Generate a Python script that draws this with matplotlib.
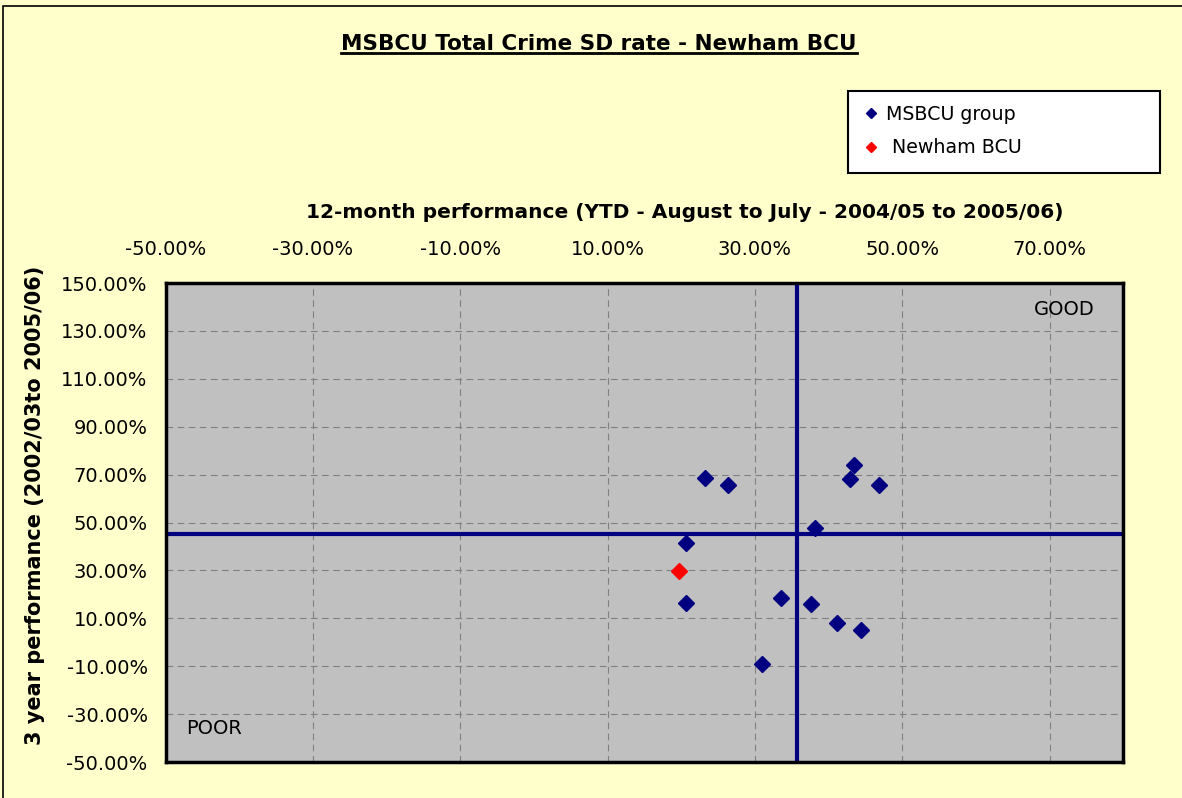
import matplotlib.pyplot as plt
from matplotlib.patches import Rectangle
from matplotlib.lines import Line2D
from matplotlib.ticker import MultipleLocator, FuncFormatter

# values (percent)
group_x = [23.2, 26.3, 20.7, 20.6, 31.0, 33.5, 37.6, 38.1, 41.1, 44.4, 42.9, 43.5, 46.9]
group_y = [68.5, 65.7, 41.6, 16.5, -9.0, 18.3, 16.1, 47.8, 8.1, 5.2, 68.3, 74.0, 65.7]
newham_x = [19.7]
newham_y = [29.7]
avg_x = 35.7
avg_y = 45.1

title = "MSBCU Total Crime SD rate - Newham BCU"
xlab = "12-month performance (YTD - August to July - 2004/05 to 2005/06)"
ylab = "3 year performance (2002/03to 2005/06)"

plt.rcParams['font.family'] = ['DejaVu Sans']

fig = plt.figure(figsize=(11.82, 7.98), dpi=100)
fig.patch.set_facecolor('#FFFFCC')

# outer chart border (cut off on right/bottom like the screenshot)
fig.add_artist(Rectangle((3 / 1182, -0.05), 1.2, 1 - 6 / 798 + 0.05,
                         transform=fig.transFigure, fill=False,
                         edgecolor='black', linewidth=1.2))

ax = fig.add_axes([165.7 / 1182, 1 - 762 / 798, (1123.3 - 165.7) / 1182, (762 - 283.1) / 798])
ax.set_facecolor('#C0C0C0')
ax.set_xlim(-50, 80)
ax.set_ylim(-50, 150)
ax.xaxis.set_major_locator(MultipleLocator(20, offset=10))
ax.yaxis.set_major_locator(MultipleLocator(20, offset=10))
pct = FuncFormatter(lambda v, p: f"{v:.2f}%")
ax.xaxis.set_major_formatter(pct)
ax.yaxis.set_major_formatter(pct)
ax.xaxis.tick_top()
ax.xaxis.set_label_position('top')
ax.tick_params(axis='x', length=0, labelsize=14, pad=17)
ax.tick_params(axis='y', length=0, labelsize=14, pad=13)
ax.grid(True, color='#808080', linestyle=(0, (6, 4)), linewidth=0.8)
ax.set_axisbelow(True)
for s in ax.spines.values():
    s.set_linewidth(2.5)
    s.set_color('black')

ax.axvline(avg_x, color='#000080', linewidth=3, zorder=2)
ax.axhline(avg_y, color='#000080', linewidth=3, zorder=2)

ax.plot(group_x, group_y, 'D', color='#000080', ms=8.5, linestyle='none', zorder=3)
ax.plot(newham_x, newham_y, 'D', color='#FF0000', ms=8.5, linestyle='none', zorder=3)

ax.set_xlabel(xlab, fontsize=14.5, fontweight='bold')
ax.xaxis.set_label_coords(0.542, 1.135)
ax.set_ylabel(ylab, fontsize=15, fontweight='bold')
ax.yaxis.set_label_coords(-0.126, 0.535)

ax.text(0.970, 0.965, "GOOD", transform=ax.transAxes, ha='right', va='top', fontsize=14)
ax.text(0.021, 0.05, "POOR", transform=ax.transAxes, ha='left', va='bottom', fontsize=14)

# title with underline
t = fig.text(599 / 1182, 1 - 44 / 798, title, ha='center', va='center', fontsize=15.5, fontweight='bold')
fig.canvas.draw()
bb = t.get_window_extent().transformed(fig.transFigure.inverted())
fig.add_artist(Line2D([bb.x0, bb.x1], [bb.y0 + 0.001, bb.y0 + 0.001],
                      transform=fig.transFigure, color='black', linewidth=2))

# legend box
fig.add_artist(Rectangle((848 / 1182, 1 - 173 / 798), 312 / 1182, 82 / 798,
                         transform=fig.transFigure, facecolor='white',
                         edgecolor='black', linewidth=1.5))
handles = [Line2D([], [], marker='D', color='#000080', ms=5.5, linestyle='none'),
           Line2D([], [], marker='D', color='#FF0000', ms=5.5, linestyle='none')]
fig.legend(handles, ["MSBCU group", " Newham BCU"], loc='upper left',
           bbox_to_anchor=(844 / 1182, 1 - 88 / 798), frameon=False,
           fontsize=13.7, handletextpad=0.3, handlelength=1.0, labelspacing=0.75)

fig.savefig('out.png', dpi=100, facecolor=fig.get_facecolor())
